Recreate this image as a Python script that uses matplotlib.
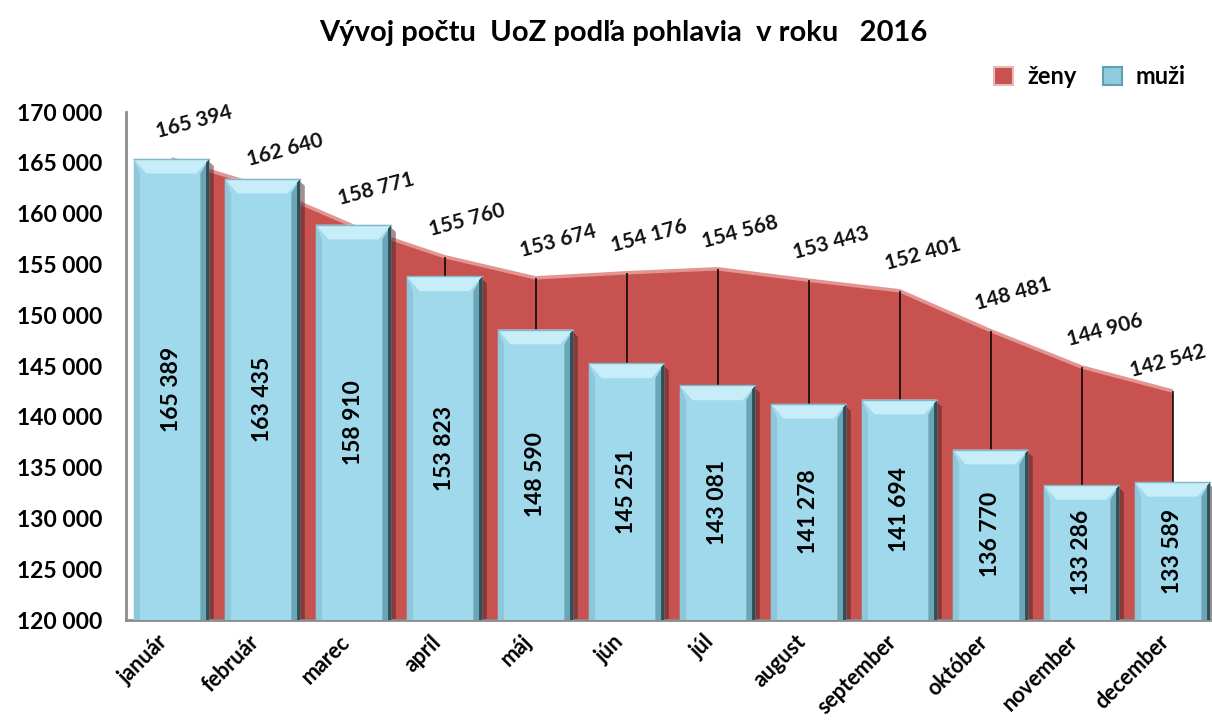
import matplotlib
matplotlib.use("Agg")
import matplotlib.pyplot as plt
from matplotlib.patches import Polygon, Patch
import matplotlib.transforms as mtransforms
import numpy as np

plt.rcParams['font.family'] = ['Lato', 'DejaVu Sans']

months = ["január", "február", "marec", "apríl", "máj", "jún", "júl",
          "august", "september", "október", "november", "december"]
zeny = [165394, 162640, 158771, 155760, 153674, 154176, 154568,
        153443, 152401, 148481, 144906, 142542]
muzi = [165389, 163435, 158910, 153823, 148590, 145251, 143081,
        141278, 141694, 136770, 133286, 133589]
yticks = [120000, 125000, 130000, 135000, 140000, 145000,
          150000, 155000, 160000, 165000, 170000]
title = "Vývoj počtu  UoZ podľa pohlavia  v roku   2016"

def fmt(v):
    return f"{v:,}".replace(",", " ")

W, H = 1212, 725
fig = plt.figure(figsize=(W / 100, H / 100), dpi=100)
ax = fig.add_axes([126 / W, (H - 620) / H, 1092 / W, 508 / H])

x = np.arange(len(months))
ymin, ymax = 120000, 170000
ax.set_xlim(-0.5, len(months) - 0.5)
ax.set_ylim(ymin, ymax)

red = "#C8524F"
# area (ženy)
ax.fill_between(x, ymin, zeny, color=red, zorder=1, linewidth=0)
ax.plot(x, zeny, color="#E39592", lw=2.5, zorder=1.5, solid_capstyle="butt")
# drop lines
ax.vlines(x, ymin, zeny, color="black", lw=1.1, zorder=2)

# bars (muži)
bw = 0.83
bars = ax.bar(x, [v - ymin for v in muzi], bottom=ymin, width=bw,
              color="#A0D9EB", zorder=3, linewidth=0)
dx = 0.14
dy = 1450
for b in bars:
    x0 = b.get_x()
    x1 = x0 + b.get_width()
    y0 = b.get_y()
    y1 = y0 + b.get_height()
    # shadow cast on right side
    ax.add_patch(Polygon([(x1, y1 - 300), (x1 + 0.05, y1 - 700), (x1 + 0.05, y0), (x1, y0)],
                         closed=True, facecolor="#4a2220", alpha=0.5, lw=0, zorder=2.5))
    # left bevel
    ax.add_patch(Polygon([(x0, y1), (x0 + dx * 0.5, y1 - dy), (x0 + dx * 0.5, y0), (x0, y0)],
                         closed=True, facecolor="#8CC8DA", lw=0, zorder=3.2))
    # right bevel (dark)
    ax.add_patch(Polygon([(x1, y1), (x1 - dx * 0.7, y1 - dy), (x1 - dx * 0.7, y0), (x1, y0)],
                         closed=True, facecolor="#6BA6B6", lw=0, zorder=3.2))
    ax.add_patch(Polygon([(x1, y1), (x1 - 0.035, y1 - 300), (x1 - 0.035, y0), (x1, y0)],
                         closed=True, facecolor="#2F4F58", lw=0, zorder=3.3))
    # top bevel (light)
    ax.add_patch(Polygon([(x0, y1), (x1, y1), (x1 - dx, y1 - dy), (x0 + dx, y1 - dy)],
                         closed=True, facecolor="#C6EDF8", lw=0, zorder=3.4))
    ax.plot([x0, x1], [y1, y1], color="#7FB8C8", lw=1, zorder=3.5)

# labels
for xi, v in zip(x, muzi):
    ax.text(xi, (v + ymin) / 2, fmt(v), rotation=90, ha="center", va="center",
            fontsize=16.5, fontweight="bold", color="black", zorder=5)
for i, (xi, v) in enumerate(zip(x, zeny)):
    off = (23, 37) if i < len(zeny) - 1 else (-5, 30)
    ax.annotate(fmt(v), (xi, v), xytext=off, textcoords="offset pixels",
                rotation=15, ha="center", va="center", fontsize=15,
                fontweight="bold", color="#111111", zorder=5,
                annotation_clip=False)

ax.set_yticks(yticks)
ax.set_yticklabels([fmt(v) for v in yticks], fontsize=16.5, fontweight="bold")
ax.set_xticks(x)
ax.set_xticklabels(months, rotation=45, ha="right", rotation_mode="anchor",
                   fontsize=15.5, fontweight="bold")
ax.tick_params(axis="y", length=0, pad=17)
ax.tick_params(axis="x", length=0, pad=8)
shift = mtransforms.ScaledTranslation(-14 / 100, 0, fig.dpi_scale_trans)
for lbl in ax.get_xticklabels():
    lbl.set_transform(lbl.get_transform() + shift)
for s in ["top", "right"]:
    ax.spines[s].set_visible(False)
ax.spines["left"].set_color("#8C8C8C")
ax.spines["bottom"].set_color("#8C8C8C")
ax.spines["left"].set_linewidth(2)
ax.spines["bottom"].set_linewidth(2)
ax.set_facecolor("white")

fig.text(623 / W, 1 - 33 / H, title, ha="center", va="center",
         fontsize=21, fontweight="bold")

handles = [Patch(facecolor="#C8524F", edgecolor="#E7B9B8", lw=1.5),
           Patch(facecolor="#8FCBDD", edgecolor="#5F9FB2", lw=1.5)]
fig.legend(handles, ["ženy", "muži"], ncol=2, loc="center right",
           bbox_to_anchor=(1207 / W, 1 - 77 / H), frameon=False,
           prop={"size": 17, "weight": "bold"}, handlelength=0.8,
           handleheight=0.8, handletextpad=0.6, columnspacing=1.1)

fig.savefig("out.png", dpi=100)
